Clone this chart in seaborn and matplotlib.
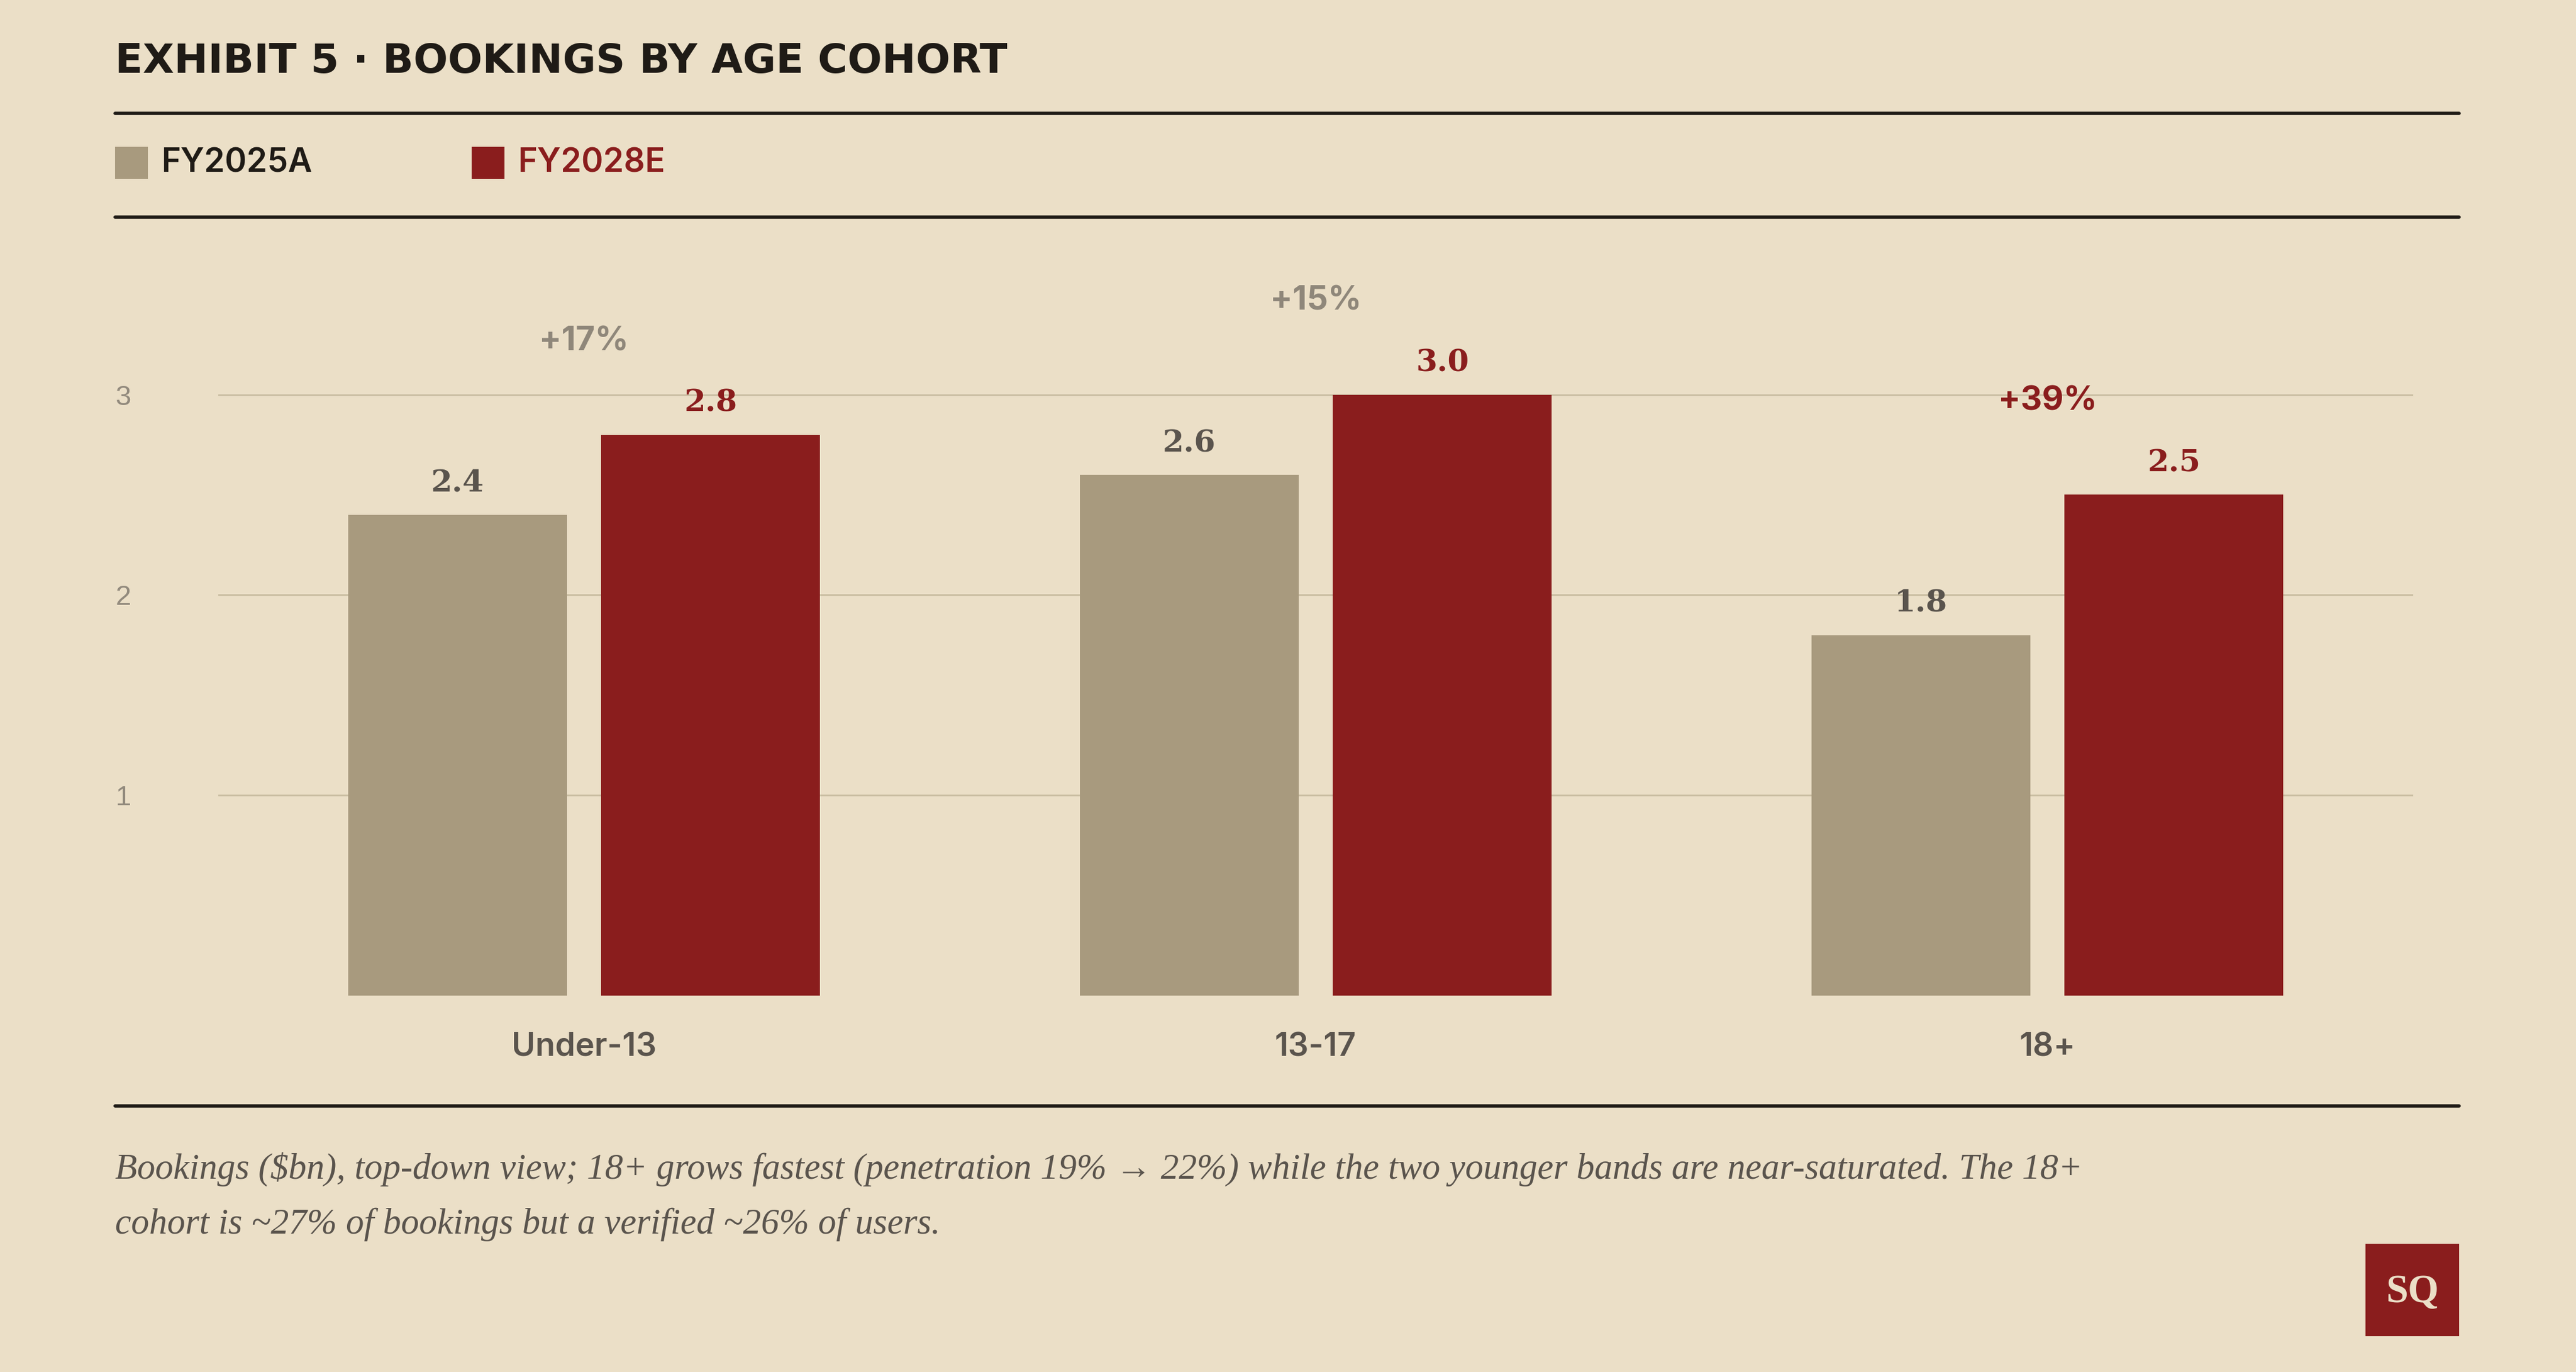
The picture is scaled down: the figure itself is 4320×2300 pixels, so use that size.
import matplotlib
matplotlib.use("Agg")
import matplotlib.pyplot as plt
import seaborn as sns
import pandas as pd
from matplotlib.patches import Rectangle
from matplotlib.lines import Line2D

cohorts = ["Under-13", "13-17", "18+"]
periods = ["FY2025A", "FY2028E"]
fy2025a = [2.4, 2.6, 1.8]
fy2028e = [2.8, 3.0, 2.5]
growth_labels = ["+17%", "+15%", "+39%"]
growth_colors = ["#8F877A", "#8F877A", "#8A1D1D"]
y_ticks = [1, 2, 3]

BG = "#EBDFC7"
TAN = "#A89A7E"
RED = "#8A1D1D"
INK = "#1F1B16"
MUTED = "#5A544D"

df = pd.DataFrame({
    "cohort": cohorts * 2,
    "period": [periods[0]] * 3 + [periods[1]] * 3,
    "value": fy2025a + fy2028e,
})

sns.set_theme(style="white")
plt.rcParams["font.family"] = ["Inter", "DejaVu Sans"]

fig = plt.figure(figsize=(21.6, 11.5), dpi=200, facecolor=BG)
ax = fig.add_axes([0.0847, 0.2743, 0.8521, 0.5257])
ax.set_facecolor(BG)

sns.barplot(data=df, x="cohort", y="value", hue="period", palette=[TAN, RED],
            width=0.692, gap=0.136, saturation=1, legend=False, ax=ax,
            linewidth=0, edgecolor="none")

ax.set_xlim(-0.5, 2.5)
ax.set_ylim(0, 3.6)
ax.set_xlabel("")
ax.set_ylabel("")
sns.despine(ax=ax, left=True, bottom=True)
ax.set_axisbelow(True)
ax.yaxis.grid(True, color="#C9BDA1", lw=1.0)
ax.xaxis.grid(False)

ax.set_yticks(y_ticks)
ax.set_yticklabels([str(t) for t in y_ticks])
ax.tick_params(axis="y", length=0, pad=62, labelsize=17, labelcolor="#928A7D")
for lab in ax.get_yticklabels():
    lab.set_horizontalalignment("left")
    lab.set_fontfamily(["Liberation Sans", "DejaVu Sans"])
ax.tick_params(axis="x", length=0, pad=22, labelsize=19.5, labelcolor=MUTED)
for lab in ax.get_xticklabels():
    lab.set_fontweight("semibold")

# bar value labels
label_colors = [MUTED, RED]
for cont, col in zip(ax.containers, label_colors):
    ax.bar_label(cont, fmt="%.1f", padding=10, color=col, fontsize=18.5,
                 fontweight="bold", fontfamily="DejaVu Serif")

# growth call-outs above each pair
for i, (g, c) in enumerate(zip(growth_labels, growth_colors)):
    top = max(fy2025a[i], fy2028e[i])
    ax.annotate(g, xy=(i, top), xytext=(0, 51), textcoords="offset points",
                ha="center", va="baseline", fontsize=20, fontweight="bold", color=c)

# header
fig.text(0.0447, 0.947, "EXHIBIT 5 · BOOKINGS BY AGE COHORT", ha="left", va="baseline",
         fontsize=24.5, fontweight="bold", color=INK, fontfamily="DejaVu Sans")
for y in (0.9174, 0.8417, 0.194):
    fig.add_artist(Line2D([0.0447, 0.9547], [y, y], transform=fig.transFigure,
                          color=INK, lw=2.0))

# legend
sw, sh = 0.01273, 0.0239
for x0, name, col, tcol in [(0.0447, periods[0], TAN, INK), (0.1831, periods[1], RED, RED)]:
    fig.add_artist(Rectangle((x0, 0.8813 - sh / 2), sw, sh, transform=fig.transFigure,
                             facecolor=col, edgecolor="none"))
    fig.text(x0 + 0.018, 0.8813, name, ha="left", va="center", fontsize=20,
             fontweight="semibold", color=tcol)

# footnote
note_font = ["Liberation Serif", "DejaVu Serif"]
fig.text(0.0447, 1 - 1976 / 2300,
         "Bookings ($bn), top-down view; 18+ grows fastest (penetration 19% → 22%) while the two younger bands are near-saturated. The 18+",
         ha="left", va="baseline", fontsize=21.8, style="italic", color=MUTED, fontfamily=note_font)
fig.text(0.0447, 1 - 2068 / 2300,
         "cohort is ~27% of bookings but a verified ~26% of users.",
         ha="left", va="baseline", fontsize=21.8, style="italic", color=MUTED, fontfamily=note_font)

# SQ mark
fig.add_artist(Rectangle((0.9183, 0.0261), 0.0364, 0.0674, transform=fig.transFigure,
                         facecolor=RED, edgecolor="none"))
fig.text(0.9183 + 0.0182, 0.0261 + 0.0320, "SQ", ha="center", va="center", fontsize=24,
         fontweight="bold", color=BG, fontfamily=["Liberation Serif", "DejaVu Serif"])

fig.savefig("out.png", dpi=200, facecolor=BG)
